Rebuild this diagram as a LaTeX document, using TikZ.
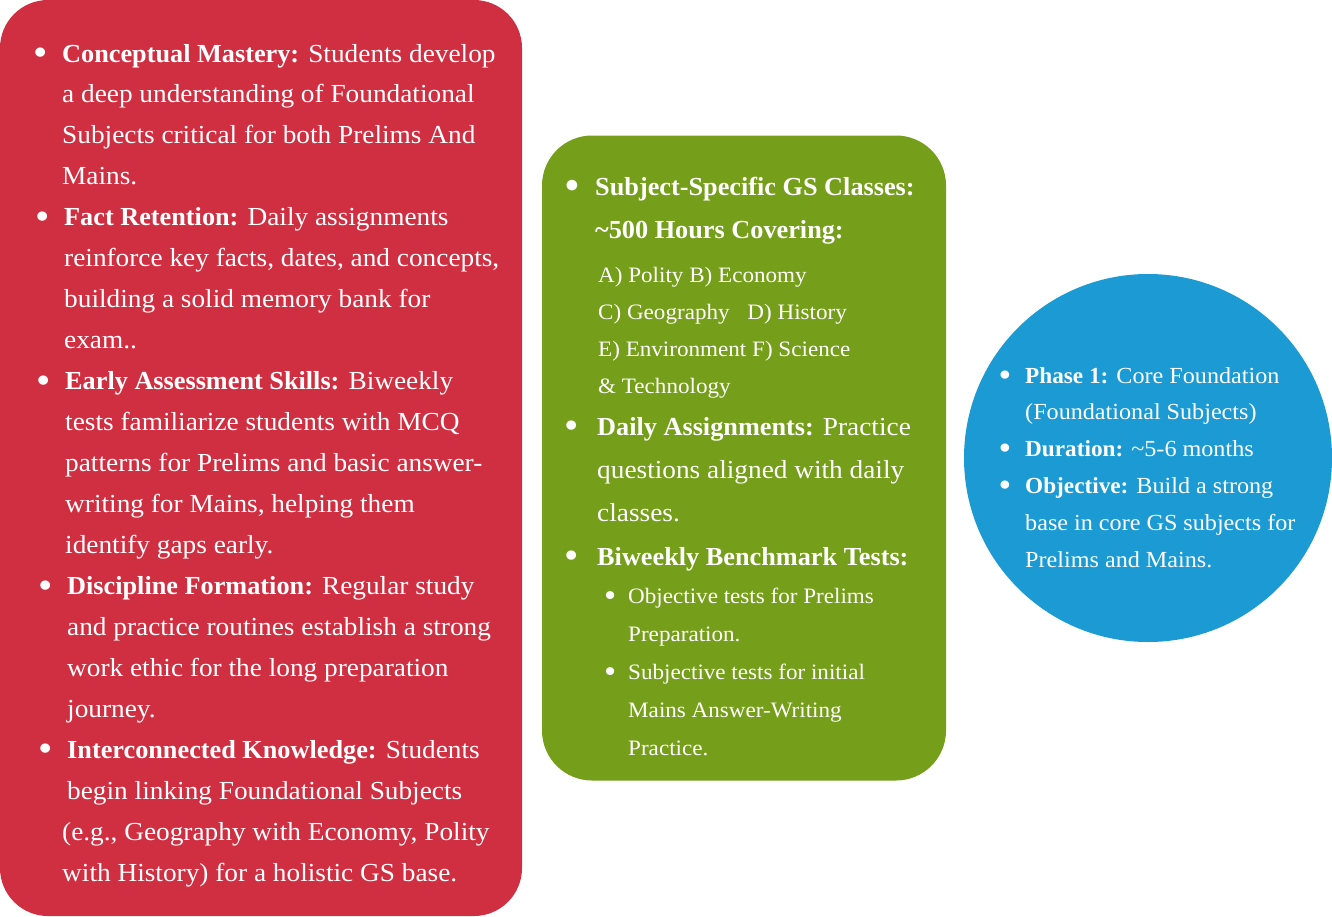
\documentclass[tikz,border=0pt]{standalone}
\usepackage{graphicx}
\usepackage{fontspec}
\setmainfont{Liberation Serif}[FakeStretch=1.05, BoldFeatures={FakeStretch=1.01}]
\usetikzlibrary{positioning}
\definecolor{phasered}{HTML}{D02F41}
\definecolor{phasegreen}{HTML}{759E1A}
\definecolor{phaseblue}{HTML}{1C9AD3}
\tikzset{
  redbox/.style={rectangle, rounded corners=48pt, fill=phasered, minimum width=522pt, minimum height=916pt, outer sep=0pt},
  greenbox/.style={rectangle, rounded corners=50pt, fill=phasegreen, minimum width=404pt, minimum height=645pt, outer sep=0pt},
  bluecircle/.style={circle, fill=phaseblue, minimum size=368pt, inner sep=0pt, outer sep=0pt},
  itemtext/.style={anchor=base west, align=left, inner sep=0pt, text=white, font=\fontsize{26}{40.95}\selectfont},
  smalltext/.style={itemtext, font=\fontsize{22}{37}\selectfont},
  circletext/.style={itemtext, font=\fontsize{23}{36.8}\selectfont}
}
\newcommand{\bul}[1][14pt]{\llap{\raisebox{-0.14em}{\scalebox{1.5}{\textbullet}}\hspace{#1}}}

\begin{document}
\begin{tikzpicture}[x=1pt, y=-1pt]
\useasboundingbox (0,0) rectangle (1332,916);

% Shapes
\node[redbox] (red) at (261,458) {};
\node[greenbox, right=20pt of red] (green) {};
\node[bluecircle, right=18pt of green] (blue) {};

% Red box text (anchored at the last baseline)
\node[itemtext] (redtext) at (62,881) {%
\bul\textbf{Conceptual Mastery:} Students develop\\
a deep understanding of Foundational\\
Subjects critical for both Prelims And\\
Mains.\\
\hspace{2pt}\bul\textbf{Fact Retention:} Daily assignments\\
\hspace{2pt}reinforce key facts, dates, and concepts,\\
\hspace{2pt}building a solid memory bank for\\
\hspace{2pt}exam..\\
\hspace{3pt}\bul\textbf{Early Assessment Skills:} Biweekly\\
\hspace{3pt}tests familiarize students with MCQ\\
\hspace{3pt}patterns for Prelims and basic answer-\\
\hspace{3pt}writing for Mains, helping them\\
\hspace{3pt}identify gaps early.\\
\hspace{5pt}\bul\textbf{Discipline Formation:} Regular study\\
\hspace{5pt}and practice routines establish a strong\\
\hspace{5pt}work ethic for the long preparation\\
\hspace{5pt}journey.\\
\hspace{5pt}\bul\textbf{Interconnected Knowledge:} Students\\
\hspace{5pt}begin linking Foundational Subjects\\
(e.g., Geography with Economy, Polity\\
with History) for a holistic GS base.};

% Green box text
\node[itemtext, font=\bfseries\fontsize{26}{43}\selectfont] (gsclasses) at (595,238) {%
\bul[16pt]Subject-Specific GS Classes:\\
\textasciitilde500 Hours Covering:};
\node[smalltext] (subjects) at (598,393) {%
A) Polity B) Economy\\
C) Geography\hspace{12pt} D) History\\
E) Environment F) Science\\
\& Technology};
\node[itemtext, font=\fontsize{26}{43.3}\selectfont] (assignments) at (597,565) {%
\bul[18pt]\textbf{Daily Assignments:} Practice\\
questions aligned with daily\\
classes.\\
\bul[18pt]\textbf{Biweekly Benchmark Tests:}};
\node[smalltext, font=\fontsize{22}{38}\selectfont] (tests) at (628,755) {%
\bul[12pt]Objective tests for Prelims\\
Preparation.\\
\bul[12pt]Subjective tests for initial\\
Mains Answer-Writing\\
Practice.};

% Circle text
\node[circletext] (phasetext) at (1025,567) {%
\bul\textbf{Phase 1:} Core Foundation\\
(Foundational Subjects)\\
\bul\textbf{Duration:} \textasciitilde5-6 months\\
\bul\textbf{Objective:} Build a strong\\
base in core GS subjects for\\
Prelims and Mains.};

\end{tikzpicture}
\end{document}
